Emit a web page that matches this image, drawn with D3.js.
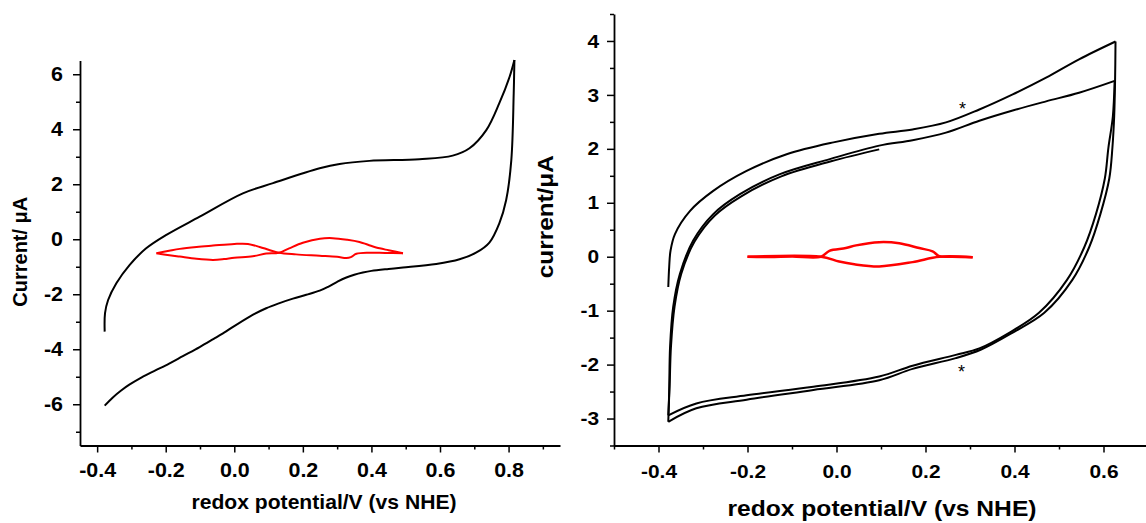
<!DOCTYPE html>
<html>
<head>
<meta charset="utf-8">
<script src="https://cdn.jsdelivr.net/npm/d3@7"></script>
<style>
  body { margin: 0; background: #fff; }
  svg { display: block; }
  text { font-family: "Liberation Sans", Arial, sans-serif; font-weight: bold; fill: #000; }
</style>
</head>
<body>
<svg id="chart" width="1146" height="523"></svg>
<script>
// ---------- Left panel: cyclic voltammogram (potential V vs NHE, current µA) ----------
const leftAnodic = [
  [-0.378,-3.36],[-0.377,-2.69],[-0.368,-2.21],[-0.344,-1.60],[-0.305,-0.93],[-0.257,-0.33],
  [-0.198,0.16],[-0.101,0.82],[0.025,1.67],[0.113,2.04],[0.249,2.58],[0.307,2.74],[0.394,2.85],
  [0.540,2.91],[0.637,3.04],[0.686,3.31],[0.735,3.97],[0.773,4.95],[0.803,5.91],[0.817,6.52]
];
const leftCathodic = [
  [0.817,6.52],[0.815,5.31],[0.808,2.88],[0.793,1.43],[0.773,0.58],[0.744,-0.12],[0.705,-0.49],
  [0.657,-0.73],[0.589,-0.90],[0.492,-1.03],[0.45,-1.08],[0.40,-1.15],[0.375,-1.21],[0.35,-1.29],
  [0.325,-1.40],[0.30,-1.55],[0.275,-1.72],[0.249,-1.87],[0.21,-2.02],[0.171,-2.16],[0.13,-2.33],
  [0.093,-2.51],[0.045,-2.81],[-0.033,-3.42],[-0.06,-3.62],[-0.101,-3.92],[-0.15,-4.25],
  [-0.19,-4.52],[-0.23,-4.77],[-0.27,-5.02],[-0.305,-5.28],[-0.33,-5.50],[-0.355,-5.76],[-0.378,-6.05]
];
const leftRedForward = [
  [-0.227,-0.51],[-0.19,-0.42],[-0.159,-0.35],[-0.11,-0.28],[-0.062,-0.23],[0.0,-0.17],[0.04,-0.17],
  [0.074,-0.28],[0.10,-0.38],[0.13,-0.49],[0.18,-0.55],[0.249,-0.60],[0.30,-0.64],[0.327,-0.68],
  [0.34,-0.65],[0.356,-0.53],[0.394,-0.49],[0.44,-0.50],[0.492,-0.51]
];
const leftRedReverse = [
  [0.492,-0.51],[0.45,-0.40],[0.424,-0.33],[0.39,-0.20],[0.365,-0.10],[0.33,-0.02],[0.287,0.04],
  [0.25,0.02],[0.20,-0.13],[0.16,-0.33],[0.13,-0.49],[0.093,-0.52],[0.054,-0.62],[0.0,-0.67],
  [-0.03,-0.72],[-0.062,-0.75],[-0.11,-0.71],[-0.159,-0.63],[-0.20,-0.56],[-0.227,-0.51]
];
const leftTicksX = [-0.4,-0.2,0.0,0.2,0.4,0.6,0.8];
const leftMinorX = [-0.3,-0.1,0.1,0.3,0.5,0.7,0.9];
const leftTicksY = [-6,-4,-2,0,2,4,6];
const leftMinorY = [-7,-5,-3,-1,1,3,5];

// ---------- Right panel: three-sweep voltammogram ----------
const rightAnodic1 = [
  [-0.378,-0.56],[-0.376,-0.19],[-0.373,0.11],[-0.363,0.42],[-0.329,0.85],[-0.277,1.22],
  [-0.202,1.59],[-0.112,1.90],[-0.007,2.12],[0.096,2.28],[0.171,2.36],[0.246,2.49],[0.321,2.73],
  [0.396,3.01],[0.471,3.32],[0.545,3.66],[0.627,3.99]
];
const rightCathodic1 = [
  [0.627,3.99],[0.626,3.26],[0.624,2.6],[0.620,2.02],[0.613,1.45],[0.593,0.79],[0.568,0.18],
  [0.530,-0.43],[0.467,-1.04],[0.395,-1.41],[0.325,-1.72],[0.268,-1.88],[0.171,-2.08],[0.096,-2.29],
  [-0.052,-2.47],[-0.202,-2.65],[-0.315,-2.81],[-0.378,-3.06]
];
const rightAnodic2 = [
  [-0.378,-3.06],[-0.376,-2.5],[-0.374,-1.67],[-0.367,-0.93],[-0.352,-0.32],[-0.322,0.30],
  [-0.277,0.79],[-0.217,1.16],[-0.127,1.53],[-0.015,1.81],[0.096,2.06],[0.171,2.16],[0.246,2.30],
  [0.321,2.52],[0.396,2.71],[0.471,2.88],[0.545,3.04],[0.625,3.26]
];
const rightCathodic2 = [
  [0.625,3.26],[0.621,2.6],[0.611,2.02],[0.603,1.45],[0.583,0.79],[0.557,0.18],[0.518,-0.43],
  [0.455,-1.04],[0.388,-1.41],[0.321,-1.70],[0.268,-1.82],[0.171,-2.02],[0.096,-2.22],
  [-0.052,-2.41],[-0.202,-2.57],[-0.315,-2.72],[-0.378,-2.94]
];
const rightAnodic3 = [
  [-0.378,-2.94],[-0.375,-2.4],[-0.372,-1.67],[-0.364,-0.93],[-0.349,-0.32],[-0.319,0.28],
  [-0.274,0.76],[-0.214,1.12],[-0.124,1.49],[-0.012,1.77],[0.096,1.99]
];
const rightRedAnodic = [
  [-0.2,0.0],[-0.15,-0.005],[-0.1,0.005],[-0.035,0.0],[-0.016,0.11],[0.021,0.16],[0.044,0.21],
  [0.096,0.27],[0.141,0.25],[0.186,0.16],[0.216,0.10],[0.231,0.01],[0.26,0.0],[0.306,-0.01]
];
const rightRedCathodic = [
  [0.306,-0.01],[0.231,0.0],[0.171,-0.10],[0.096,-0.18],[0.040,-0.14],[0.006,-0.09],[-0.035,0.0],[-0.2,0.0]
];
const rightMarks = [[0.283,2.82],[0.281,-2.07]];
const rightTicksX = [-0.4,-0.2,0.0,0.2,0.4,0.6];
const rightMinorX = [-0.5,-0.3,-0.1,0.1,0.3,0.5];
const rightTicksY = [-3,-2,-1,0,1,2,3,4];
const rightMinorY = [-3.5,-2.5,-1.5,-0.5,0.5,1.5,2.5,3.5,4.5];

const svg = d3.select("#chart");

function drawPanel(p) {
  const x = d3.scaleLinear().domain(p.xDomain).range(p.xRange);
  const y = d3.scaleLinear().domain(p.yDomain).range(p.yRange);
  const g = svg.append("g");
  const sx = p.stretch;

  const styleText = (sel, size) => sel.selectAll("text")
    .style("font-size", size + "px")
    .style("font-family", '"Liberation Sans", Arial, sans-serif')
    .style("font-weight", "bold")
    .attr("transform", sx !== 1 ? `scale(${sx},1)` : null);

  // bottom axis
  const gx = g.append("g").attr("transform", `translate(0,${p.yRange[0]})`)
    .call(d3.axisBottom(x).tickValues(p.ticksX).tickSize(7).tickSizeOuter(0)
      .tickPadding(p.xPad).tickFormat(d3.format(".1f")));
  gx.select(".domain").attr("stroke-width", 1.8);
  gx.selectAll(".tick line").attr("stroke-width", 1.5);
  styleText(gx, p.tickFont);
  gx.selectAll("text").text(d => d3.format(".1f")(d).replace("−", "-"));
  g.append("g").attr("transform", `translate(0,${p.yRange[0]})`)
    .call(d3.axisBottom(x).tickValues(p.minorX).tickSize(4).tickSizeOuter(0).tickFormat(""))
    .call(s => s.select(".domain").remove())
    .selectAll(".tick line").attr("stroke-width", 1.5);

  // left axis
  const gy = g.append("g").attr("transform", `translate(${p.xRange[0]},0)`)
    .call(d3.axisLeft(y).tickValues(p.ticksY).tickSize(7).tickSizeOuter(0)
      .tickPadding(p.yPad).tickFormat(d3.format("d")));
  gy.select(".domain").attr("stroke-width", 1.8);
  gy.selectAll(".tick line").attr("stroke-width", 1.5);
  styleText(gy, p.tickFont);
  gy.selectAll("text").text(d => String(d));
  g.append("g").attr("transform", `translate(${p.xRange[0]},0)`)
    .call(d3.axisLeft(y).tickValues(p.minorY).tickSize(4).tickSizeOuter(0).tickFormat(""))
    .call(s => s.select(".domain").remove())
    .selectAll(".tick line").attr("stroke-width", 1.5);

  // curves
  const line = d3.line().x(d => x(d[0])).y(d => y(d[1])).curve(d3.curveCatmullRom.alpha(0.5));
  p.series.forEach(s => {
    g.append("path").attr("d", line(s.data)).attr("fill", "none")
      .attr("stroke", s.color).attr("stroke-width", s.width || 2)
      .attr("stroke-linejoin", "round").attr("stroke-linecap", "butt");
  });

  // annotation marks
  (p.marks || []).forEach(m => {
    g.append("text").attr("x", x(m[0])).attr("y", y(m[1]) + 10)
      .attr("text-anchor", "middle").style("font-weight", "normal").style("font-size", "18px")
      .text("*");
  });

  // axis titles
  g.append("text").attr("x", p.xTitle.x).attr("y", p.xTitle.y).attr("text-anchor", "middle")
    .style("font-size", p.xTitle.size + "px")
    .attr("textLength", p.xTitle.len).attr("lengthAdjust", "spacingAndGlyphs")
    .text("redox potential/V (vs NHE)");
  g.append("text")
    .attr("transform", `translate(${p.yTitle.x},${p.yTitle.y}) rotate(-90)`)
    .attr("text-anchor", "middle").style("font-size", p.yTitle.size + "px")
    .attr("textLength", p.yTitle.len).attr("lengthAdjust", "spacingAndGlyphs")
    .text(p.yTitle.text);
}

drawPanel({
  xDomain: [-0.45, 0.95], xRange: [80, 560],
  yDomain: [-7.5, 6.5], yRange: [445.5, 60.5],
  ticksX: leftTicksX, minorX: leftMinorX, ticksY: leftTicksY, minorY: leftMinorY,
  tickFont: 19.5, xPad: 11, yPad: 8.5, stretch: 1.1,
  series: [
    { data: leftAnodic, color: "#000" }, { data: leftCathodic, color: "#000" },
    { data: leftRedForward, color: "#ff0000" }, { data: leftRedReverse, color: "#ff0000" }
  ],
  xTitle: { x: 324, y: 509, size: 21, len: 265 },
  yTitle: { x: 27, y: 251.7, size: 20, len: 110, text: "Current/ μA" }
});

drawPanel({
  xDomain: [-0.5, 0.7], xRange: [614, 1148],
  yDomain: [-3.5, 4.5], yRange: [445.5, 14],
  ticksX: rightTicksX, minorX: rightMinorX, ticksY: rightTicksY, minorY: rightMinorY,
  tickFont: 19, xPad: 12, yPad: 6.6, stretch: 1.1,
  series: [
    { data: rightAnodic1, color: "#000" }, { data: rightCathodic1, color: "#000" },
    { data: rightAnodic2, color: "#000" }, { data: rightCathodic2, color: "#000" },
    { data: rightAnodic3, color: "#000" },
    { data: rightRedAnodic, color: "#ff0000", width: 2.5 },
    { data: rightRedCathodic, color: "#ff0000", width: 2.5 }
  ],
  marks: rightMarks,
  xTitle: { x: 882, y: 516, size: 22, len: 309 },
  yTitle: { x: 553, y: 216.7, size: 22, len: 123, text: "current/μA" }
});
</script>
</body>
</html>
